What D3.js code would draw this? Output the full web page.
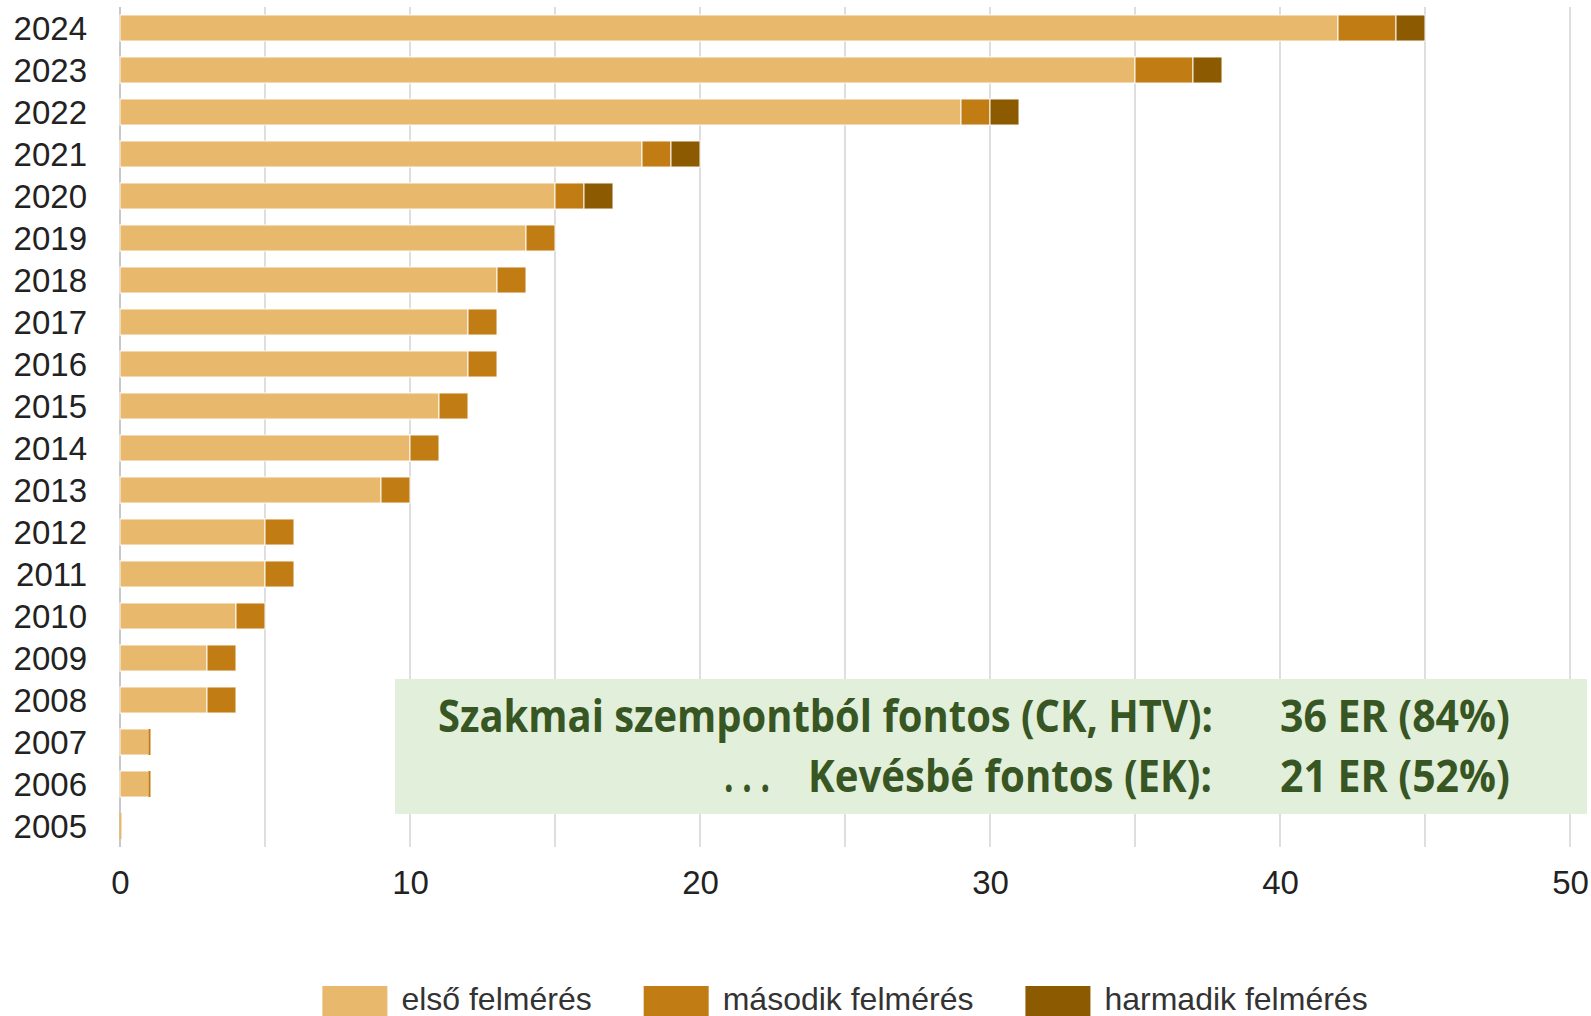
<!DOCTYPE html>
<html>
<head>
<meta charset="utf-8">
<script src="https://cdn.jsdelivr.net/npm/d3@7"></script>
<style>
  body { margin: 0; background: #fff; }
  svg { display: block; font-family: "Liberation Sans", Arial, sans-serif; }
</style>
</head>
<body>
<svg id="chart"></svg>
<script>
// Data
const years  = ["2024","2023","2022","2021","2020","2019","2018","2017","2016","2015",
                "2014","2013","2012","2011","2010","2009","2008","2007","2006","2005"];
const first  = [42, 35, 29, 18, 15, 14, 13, 12, 12, 11, 10, 9, 5, 5, 4, 3, 3, 1, 1, 0];
const second = [2, 2, 1, 1, 1, 1, 1, 1, 1, 1, 1, 1, 1, 1, 1, 1, 1, 0, 0, null];
const third  = [1, 1, 1, 1, 1, null, null, null, null, null, null, null, null, null, null, null, null, null, null, null];
const seriesNames  = ["első felmérés", "második felmérés", "harmadik felmérés"];
const seriesColors = ["#e8b86d", "#c27c14", "#8c5a00"];
const xTicks = [0, 10, 20, 30, 40, 50];
const noteLabels = ["Szakmai szempontból fontos (CK, HTV):", "Kevésbé fontos (EK):"];
const noteValues = ["36 ER (84%)", "21 ER (52%)"];

const width = 1591, height = 1016;
const svg = d3.select("#chart").attr("width", width).attr("height", height);

const x = d3.scaleLinear().domain([0, 50]).range([120, 1570]);
const y = d3.scaleBand().domain(years).range([7, 847])
    .paddingInner(0.38).paddingOuter(0.19);

// gridlines every 5
svg.append("g")
  .selectAll("line")
  .data(d3.range(0, 51, 5))
  .join("line")
    .attr("x1", d => x(d)).attr("x2", d => x(d))
    .attr("y1", 7).attr("y2", 847)
    .attr("stroke", d => d === 0 ? "#c8c8c8" : "#dedede")
    .attr("stroke-width", 2);

// stacked rows
const rows = years.map((yr, i) => ({ year: yr, vals: [first[i], second[i], third[i]] }));
const segs = [];
rows.forEach(r => {
  let acc = 0;
  r.vals.forEach((v, k) => {
    if (v === null) return;
    segs.push({ year: r.year, k: k, x0: acc, x1: acc + v });
    acc += v;
  });
});

const bars = svg.append("g");
bars.selectAll("rect")
  .data(segs.filter(d => d.x1 > d.x0))
  .join("rect")
    .attr("x", d => x(d.x0))
    .attr("width", d => x(d.x1) - x(d.x0))
    .attr("y", d => y(d.year))
    .attr("height", y.bandwidth())
    .attr("fill", d => seriesColors[d.k])
    .attr("stroke", "#fff")
    .attr("stroke-opacity", 0.8)
    .attr("stroke-width", 1.2);

// zero-length segments show up as a thin edge
bars.selectAll("line")
  .data(segs.filter(d => d.x1 === d.x0))
  .join("line")
    .attr("x1", d => x(d.x0) + 0.5).attr("x2", d => x(d.x0) + 0.5)
    .attr("y1", d => y(d.year)).attr("y2", d => y(d.year) + y.bandwidth())
    .attr("stroke", d => seriesColors[d.k])
    .attr("stroke-width", 2);

// year labels
svg.append("g")
  .selectAll("text")
  .data(years)
  .join("text")
    .attr("x", 87)
    .attr("y", d => y(d) + y.bandwidth() / 2)
    .attr("dy", "0.36em")
    .attr("text-anchor", "end")
    .attr("font-size", 33)
    .attr("fill", "#222")
    .text(d => d);

// x axis labels
const xAxis = svg.append("g")
  .attr("transform", "translate(0,894)")
  .call(d3.axisBottom(x).tickValues(xTicks).tickSize(0).tickPadding(0));
xAxis.select(".domain").remove();
xAxis.selectAll("text")
  .attr("y", 0).attr("dy", 0)
  .attr("font-size", 33)
  .attr("font-family", "Liberation Sans, Arial, sans-serif")
  .attr("fill", "#222");

// annotation box
const note = svg.append("g");
note.append("rect")
  .attr("x", 395).attr("y", 679)
  .attr("width", 1192).attr("height", 135)
  .attr("fill", "#e2efda");

// condensed bold text: squeeze a wider font horizontally to the measured width
function noteText(str, left, baseline, w) {
  const g = note.append("g");
  const t = g.append("text")
    .attr("font-family", "'Open Sans', 'Noto Sans', sans-serif")
    .attr("font-weight", "bold")
    .attr("font-size", 45)
    .attr("fill", "#375623")
    .text(str);
  const natural = t.node().getComputedTextLength();
  g.attr("transform", `translate(${left},${baseline}) scale(${w / natural},1)`);
}
noteText(noteLabels[0], 438, 732, 775);
noteText(". . .", 724, 792, 46);
noteText(noteLabels[1], 808, 792, 404);
noteValues.forEach((v, i) => noteText(v, 1280, i === 0 ? 732 : 792, 230));

// legend, centred under the plot
const legend = svg.append("g");
let lx = 0;
seriesNames.forEach((name, i) => {
  const item = legend.append("g").attr("transform", `translate(${lx},0)`);
  item.append("rect")
    .attr("x", 0).attr("y", 986)
    .attr("width", 65).attr("height", 40)
    .attr("fill", seriesColors[i]);
  const t = item.append("text")
    .attr("x", 79).attr("y", 1010)
    .attr("font-size", 32)
    .attr("fill", "#333")
    .text(name);
  lx += 79 + t.node().getComputedTextLength() + 52;
});
const legendW = lx - 52;
legend.attr("transform", `translate(${(x(0) + x(50)) / 2 - legendW / 2},0)`);
</script>
</body>
</html>
